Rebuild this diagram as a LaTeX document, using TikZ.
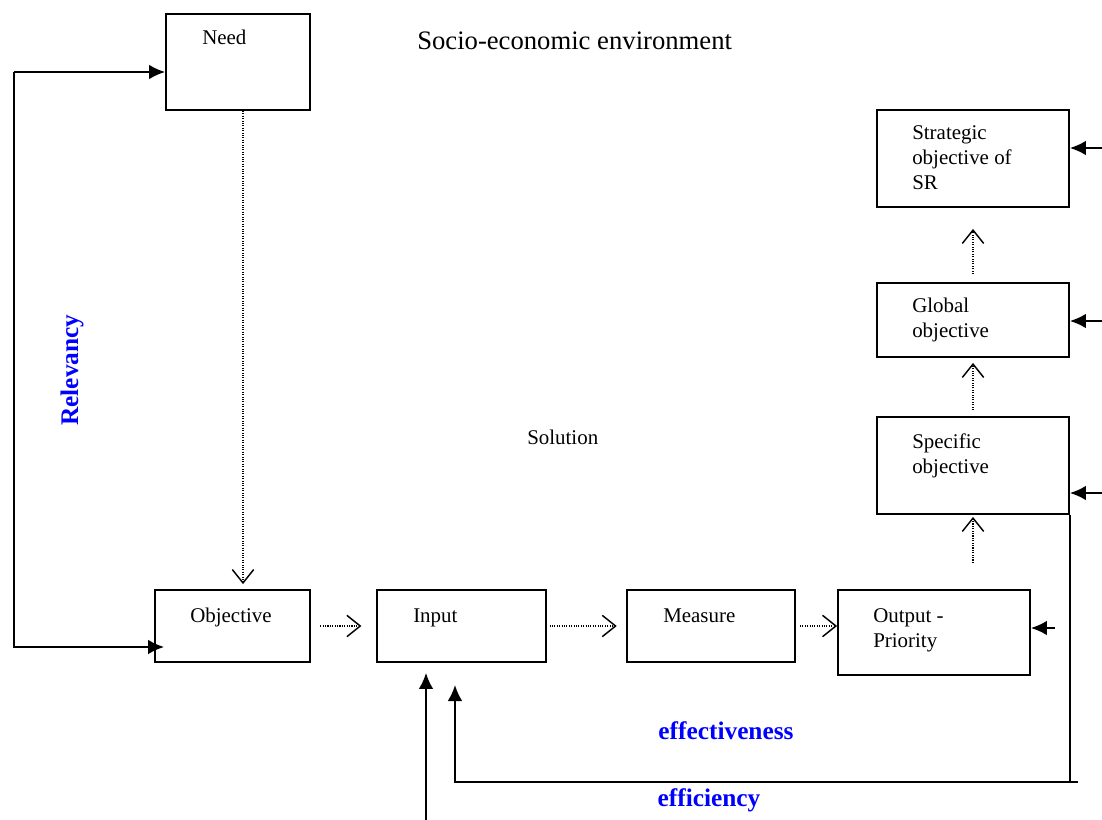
\documentclass[tikz,border=0pt]{standalone}
\usepackage{fontspec}
\setmainfont{Liberation Serif}
\usetikzlibrary{arrows.meta,calc}
\begin{document}
\begin{tikzpicture}[x=0.75pt,y=-0.75pt,
    box/.style={draw,line width=1.4pt,inner sep=0pt},
    txt/.style={font=\fontsize{15.7}{18.8}\selectfont,inner sep=0pt,align=left},
    bluetxt/.style={font=\fontsize{19}{22}\selectfont\bfseries,text=blue,inner sep=0pt},
    dotarr/.style={densely dotted,line width=0.8pt,-{Straight Barb[length=10pt,width=16pt,line width=1.1pt]}},
    arr/.style={line width=1.4pt,-{Latex[length=12pt,width=11pt]}}]
    \useasboundingbox (0,0) rectangle (1102,820);
    % boxes
    \node[box,minimum width=108pt,minimum height=72pt] (need) at (238,62) {};
    \node[box,minimum width=144pt,minimum height=72.75pt] (strat) at (973,158.5) {};
    \node[box,minimum width=144pt,minimum height=55.5pt] (glob) at (973,320) {};
    \node[box,minimum width=144pt,minimum height=72.75pt] (spec) at (973,465.5) {};
    \node[box,minimum width=116.25pt,minimum height=54pt] (obj) at (232.5,626) {};
    \node[box,minimum width=126.75pt,minimum height=54pt] (input) at (461.5,626) {};
    \node[box,minimum width=126pt,minimum height=54pt] (meas) at (711,626) {};
    \node[box,minimum width=144pt,minimum height=63.75pt] (outp) at (934,632.5) {};
    % texts
    \node[txt,anchor=base west] (needtxt) at (202,45) {Need};
    \node[txt,anchor=base west,font=\fontsize{20}{24}\selectfont] (socio) at (417,50) {Socio-economic environment};
    \node[txt,anchor=north west] (strattxt) at (912,125) {Strategic\\objective of\\SR};
    \node[txt,anchor=north west] (globtxt) at (912,298) {Global\\objective};
    \node[txt,anchor=north west] (spectxt) at (912,433) {Specific\\objective};
    \node[txt,anchor=base west] (soltxt) at (527,444) {Solution};
    \node[txt,anchor=base west] (objtxt) at (190,622) {Objective};
    \node[txt,anchor=base west] (inputtxt) at (413,622) {Input};
    \node[txt,anchor=base west] (meastxt) at (663,622) {Measure};
    \node[txt,anchor=north west] (outptxt) at (873,608) {Output -\\Priority};
    \node[bluetxt,rotate=90] (rel) at (72,370) {Relevancy};
    \node[bluetxt] (effv) at (726,731) {effectiveness};
    \node[bluetxt] (effc) at (709,800) {efficiency};
    % relevancy loop
    \coordinate (reltop) at (14,72);
    \coordinate (relbot) at (14,647);
    \draw[arr] (reltop) -- (reltop -| need.west);
    \draw[arr] (reltop) -- (relbot) -- ($(relbot -| obj.west)+(10,0)$);
    % dotted chain
    \draw[dotarr] ($(need.south)+(5,0)$) -- ($(obj.north)+(10.5,-5)$);
    \draw[dotarr,shorten <=7pt,shorten >=11pt] (obj.east) -- (input.west);
    \draw[dotarr,shorten <=2pt,shorten >=7pt] (input.east) -- (meas.west);
    \draw[dotarr,shorten <=3pt] (meas.east) -- (meas.east -| outp.west);
    \draw[dotarr,shorten >=1.5pt] ($(spec.south)+(0,48)$) -- (spec.south);
    \draw[dotarr,shorten >=3.75pt] ($(spec.north)+(0,-6)$) -- (glob.south);
    \draw[dotarr,shorten >=15.75pt] ($(glob.north)+(0,-8)$) -- (strat.south);
    % inputs from the right
    \coordinate (r1) at (1102,148);
    \coordinate (r2) at (1102,321);
    \coordinate (r3) at (1102,493);
    \coordinate (r4) at (1055,628);
    \draw[arr] (r1) -- (r1 -| strat.east);
    \draw[arr] (r2) -- (r2 -| glob.east);
    \draw[arr] (r3) -- (r3 -| spec.east);
    \draw[arr] (r4) -- (r4 -| outp.east);
    % feedback
    \coordinate (fbr) at (1078,782);
    \coordinate (fbl) at (455,782);
    \coordinate (fbtip) at (455,685);
    \draw[line width=1.4pt] (spec.south east) -- (spec.south east |- fbr);
    \draw[arr] (fbr) -- (fbl) -- (fbtip);
    \coordinate (inbot) at (426,820);
    \draw[arr,shorten >=7.5pt] (inbot) -- (inbot |- input.south);
\end{tikzpicture}
\end{document}
